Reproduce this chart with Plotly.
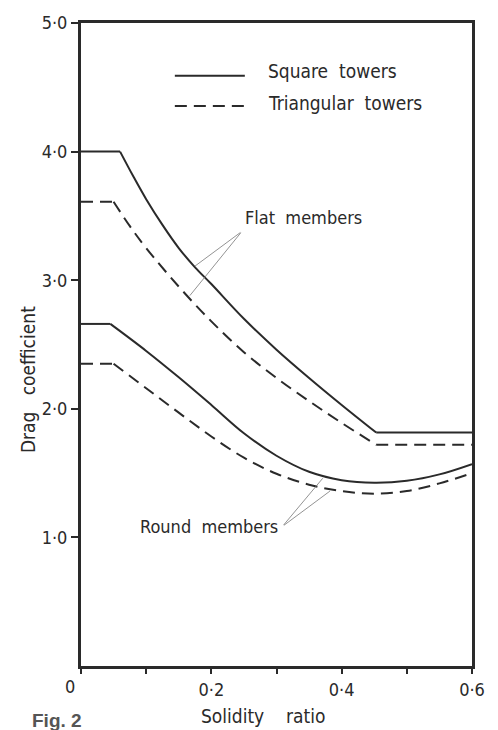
import plotly.graph_objects as go

# ---- data ----
x_sq_flat = [0, 0.06, 0.08, 0.10, 0.125, 0.15, 0.175, 0.20, 0.25, 0.30, 0.35, 0.40, 0.453, 0.60]
y_sq_flat = [4.00, 4.00, 3.81, 3.63, 3.43, 3.25, 3.10, 2.97, 2.70, 2.46, 2.24, 2.03, 1.815, 1.815]

x_tri_flat = [0, 0.05, 0.075, 0.10, 0.15, 0.20, 0.25, 0.30, 0.35, 0.40, 0.453, 0.60]
y_tri_flat = [3.61, 3.61, 3.42, 3.25, 2.95, 2.68, 2.44, 2.24, 2.06, 1.89, 1.72, 1.72]

x_sq_round = [0, 0.045, 0.10, 0.15, 0.20, 0.25, 0.30, 0.35, 0.40, 0.45, 0.50, 0.55, 0.60]
y_sq_round = [2.66, 2.66, 2.45, 2.245, 2.03, 1.81, 1.635, 1.51, 1.445, 1.425, 1.44, 1.49, 1.57]

x_tri_round = [0, 0.05, 0.10, 0.15, 0.20, 0.25, 0.30, 0.35, 0.40, 0.45, 0.50, 0.55, 0.60]
y_tri_round = [2.35, 2.35, 2.16, 1.97, 1.785, 1.62, 1.495, 1.41, 1.36, 1.34, 1.36, 1.42, 1.50]

x_tickvals = [0.2, 0.4, 0.6]
x_ticktext = ["0·2", "0·4", "0·6"]
y_tickvals = [1, 2, 3, 4, 5]
y_ticktext = ["1·0", "2·0", "3·0", "4·0", "5·0"]

FONT = "DejaVu Sans Condensed, Liberation Sans Narrow, sans-serif"
INK = "#2a2a2a"
LINE_W = 2
DASH = "12px,7px"

fig = go.Figure()


def add_curve(xs, ys, dash, segments):
    """segments: list of (start, end_inclusive, shape)"""
    for a, b, shape in segments:
        fig.add_trace(go.Scatter(
            x=xs[a:b + 1], y=ys[a:b + 1], mode="lines",
            line=dict(color=INK, width=LINE_W, dash=dash, shape=shape,
                      smoothing=1.0 if shape == "spline" else None),
            hoverinfo="skip"))


n = len(x_sq_flat)
add_curve(x_sq_flat, y_sq_flat, "solid", [(0, 1, "linear"), (1, n - 2, "spline"), (n - 2, n - 1, "linear")])
n = len(x_tri_flat)
add_curve(x_tri_flat, y_tri_flat, DASH, [(0, 1, "linear"), (1, n - 2, "spline"), (n - 2, n - 1, "linear")])
n = len(x_sq_round)
add_curve(x_sq_round, y_sq_round, "solid", [(0, 1, "linear"), (1, n - 1, "spline")])
n = len(x_tri_round)
add_curve(x_tri_round, y_tri_round, DASH, [(0, 1, "linear"), (1, n - 1, "spline")])

annotations = []
# leader lines: Flat members
for tip in [(0.175, 3.11), (0.167, 2.88)]:
    annotations.append(dict(x=tip[0], y=tip[1], ax=0.247, ay=3.38, xref="x", yref="y",
                            axref="x", ayref="y", text="", showarrow=True, arrowhead=0,
                            arrowwidth=0.8, arrowcolor="#777"))
# leader lines: Round members
for tip in [(0.371, 1.46), (0.382, 1.36)]:
    annotations.append(dict(x=tip[0], y=tip[1], ax=0.309, ay=1.085, xref="x", yref="y",
                            axref="x", ayref="y", text="", showarrow=True, arrowhead=0,
                            arrowwidth=0.8, arrowcolor="#777"))
annotations.append(dict(x=0.249, y=3.49, xref="x", yref="y", text="Flat\u00a0 members",
                        showarrow=False, xanchor="left", yanchor="middle",
                        font=dict(family=FONT, size=18, color=INK)))
annotations.append(dict(x=0.305, y=1.085, xref="x", yref="y", text="Round\u00a0 members",
                        showarrow=False, xanchor="right", yanchor="middle",
                        font=dict(family=FONT, size=18, color=INK)))
# legend text
annotations.append(dict(x=0.473, y=0.925, xref="paper", yref="paper", text="Square\u00a0 towers",
                        showarrow=False, xanchor="left", yanchor="middle",
                        font=dict(family=FONT, size=19, color=INK)))
annotations.append(dict(x=0.473, y=0.876, xref="paper", yref="paper", text="Triangular\u00a0 towers",
                        showarrow=False, xanchor="left", yanchor="middle",
                        font=dict(family=FONT, size=19, color=INK)))
# corner zero
annotations.append(dict(x=-0.028, y=-0.032, xref="paper", yref="paper", text="0",
                        showarrow=False, xanchor="center", yanchor="middle",
                        font=dict(family=FONT, size=18, color=INK)))
# axis titles
annotations.append(dict(x=-0.135, y=0.445, xref="paper", yref="paper",
                        text="Drag\u00a0\u00a0 coefficient", textangle=-90,
                        showarrow=False, xanchor="center", yanchor="middle",
                        font=dict(family=FONT, size=19, color=INK)))
annotations.append(dict(x=0.465, y=-0.077, xref="paper", yref="paper",
                        text="Solidity\u00a0\u00a0\u00a0 ratio",
                        showarrow=False, xanchor="center", yanchor="middle",
                        font=dict(family=FONT, size=19, color=INK)))
annotations.append(dict(x=-0.062, y=-0.084, xref="paper", yref="paper", text="<b>Fig. 2</b>",
                        showarrow=False, xanchor="center", yanchor="middle",
                        font=dict(family="Liberation Sans, Arial, sans-serif", size=19, color="#555")))

shapes = [
    dict(type="line", xref="paper", yref="paper", x0=0.240, x1=0.419, y0=0.918, y1=0.918,
         line=dict(color=INK, width=LINE_W)),
    dict(type="line", xref="paper", yref="paper", x0=0.240, x1=0.419, y0=0.871, y1=0.871,
         line=dict(color=INK, width=LINE_W, dash=DASH)),
]

fig.update_layout(
    width=498, height=730,
    margin=dict(l=81, r=26, t=16, b=64),
    paper_bgcolor="white", plot_bgcolor="white",
    showlegend=False,
    annotations=annotations, shapes=shapes,
    xaxis=dict(range=[0, 0.6], tickvals=x_tickvals, ticktext=x_ticktext,
               ticks="outside", ticklen=5, tickwidth=1.5, tickcolor=INK,
               minor=dict(dtick=0.1, ticks="outside", ticklen=5, tickwidth=1.5, tickcolor=INK),
               showgrid=False, zeroline=False, showline=True, linecolor=INK, linewidth=3,
               mirror=True, tickfont=dict(family=FONT, size=18, color=INK)),
    yaxis=dict(range=[0, 5], tickvals=y_tickvals, ticktext=y_ticktext,
               ticks="outside", ticklen=7, tickwidth=1.5, tickcolor=INK,
               showgrid=False, zeroline=False, showline=True, linecolor=INK, linewidth=3,
               mirror=True, tickfont=dict(family=FONT, size=18, color=INK)),
)

fig.write_html("out.html", config={"displayModeBar": False},
               post_script="document.body.style.margin='0';document.body.style.overflow='hidden';")
